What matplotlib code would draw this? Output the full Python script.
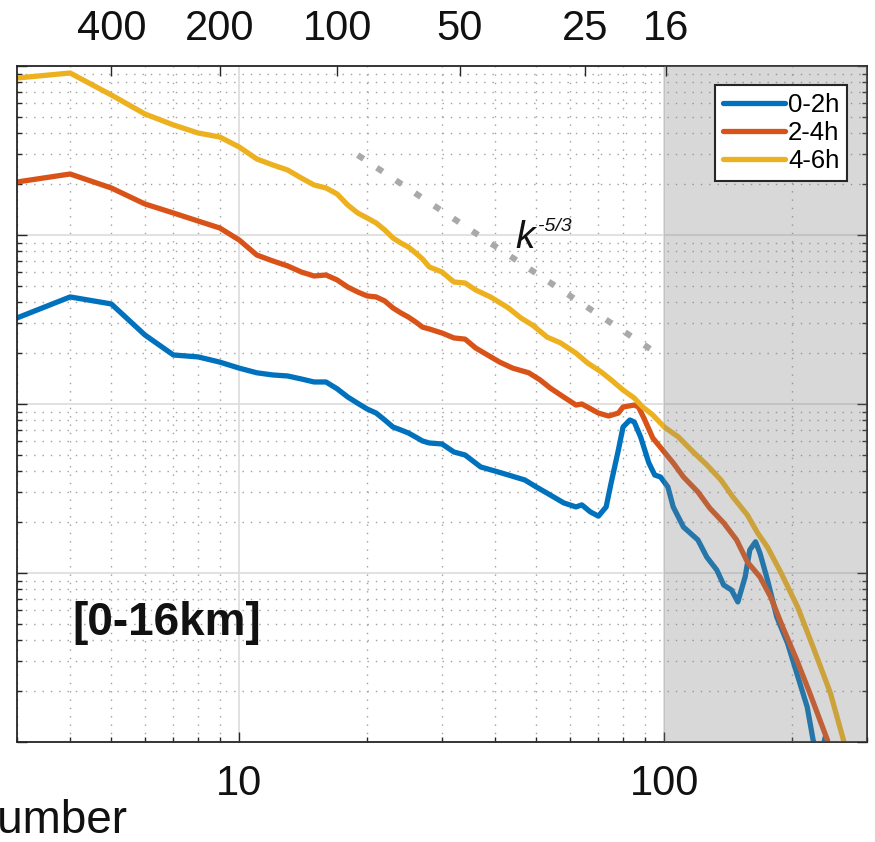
import numpy as np
import matplotlib
matplotlib.use("Agg")
import matplotlib.pyplot as plt
from matplotlib.ticker import LogLocator, NullFormatter, NullLocator

plt.rcParams["font.family"] = ["Liberation Sans", "DejaVu Sans"]

# ---- spectra (wavenumber index k, spectral energy) ----
k_0_2h = [3, 4, 5, 6, 7, 8, 9, 10, 11, 12, 13, 14, 15, 16, 17, 18, 19, 20, 21, 22, 23, 24, 25, 26, 27, 28,
          30, 32, 34, 37, 40, 43, 47, 50, 53, 58, 62, 64, 67, 70, 73, 75, 78, 80, 83, 85, 88, 92, 95, 98,
          102, 105, 111, 120, 126, 133, 138, 144, 149, 155, 159, 164, 168, 175, 184, 195, 205, 217, 224,
          232, 239, 245]
e_0_2h = [323, 430, 391, 256, 195, 190, 177, 163, 153, 148.5, 146.5, 140.6, 135, 135, 123, 110, 101, 93.4,
          88.4, 80.4, 73.1, 70.2, 67.4, 63.8, 60.4, 58.8,
          58.0, 52.0, 49.9, 42.4, 40.1, 38.0, 35.5, 32.3, 29.7, 26.0, 24.6, 25.3, 23.0, 21.7, 24.6, 34.1,
          53.4, 73.1, 80.4, 78.3, 63.8, 44.8, 38.0, 37.0,
          32.3, 24.6, 18.7, 15.7, 12.4, 10.4, 8.49, 7.93, 6.74, 9.47, 13.7, 15.3, 13.1, 9.09, 5.49, 3.85,
          2.56, 1.61, 1.03, 0.75, 1.06, 0.6]

k_2_4h = [3, 4, 5, 6, 7, 8, 9, 10, 11, 12, 13, 14, 15, 16, 17, 18, 19, 20, 21, 22, 23, 24, 25, 26, 27, 28,
          30, 32, 34, 36, 41, 44, 48, 51, 54, 58, 62, 64, 70, 74, 78, 80, 85, 87, 90, 94,
          100, 105, 111, 120, 128, 138, 148, 157, 168, 178, 190, 205, 220, 242, 255]
e_2_4h = [2059, 2296, 1898, 1526, 1350, 1210, 1100, 934, 761, 702, 656, 604, 572, 580, 542, 492, 460, 436,
          430, 407, 370, 346, 327, 306, 285, 278,
          263, 246, 242, 214.5, 177, 163, 153, 139, 124, 110, 98.6, 100, 88.4, 84.9, 88.4, 96.0, 98.6,
          96.0, 80.4, 62.9,
          52.0, 44.8, 37.0, 30.2, 24.2, 19.8, 15.7, 11.6, 9.47, 7.21, 4.79, 3.06, 1.95, 1.03, 0.55]

k_4_6h = [3, 4, 5, 6, 7, 8, 9, 10, 11, 12, 13, 14, 15, 16, 17, 18, 19, 20, 21, 22, 23, 24, 25, 26, 27, 28,
          30, 32, 34, 36, 39, 43, 46, 49, 53, 57, 62, 66, 71, 75, 80, 85, 89, 94,
          100, 108, 117, 126, 136, 145, 157, 166, 175, 188, 206, 224, 246, 264, 280]
e_4_6h = [8490, 9090, 6740, 5200, 4480, 4015, 3800, 3317, 2817, 2596, 2424, 2174, 1977, 1898, 1748, 1505,
          1350, 1261, 1178, 1071, 960, 897, 849, 783, 721, 647,
          604, 527, 520, 473, 430, 370, 323, 293, 249, 230, 200, 175, 155, 139, 121, 108.5, 96.0, 86.1,
          73.1, 63.8, 52.0, 43.6, 35.5, 28.2, 22.0, 17.2, 14.2, 10.1, 6.29, 3.65, 1.95, 1.03, 0.55]

series_labels = ["0-2h", "2-4h", "4-6h"]
series_colors = ["#0072BD", "#D95319", "#EDB120"]

# k^(-5/3) reference slope
ref_k = np.array([19.0, 98.0])
ref_level = 2972.0

# top axis: wavelength (km) for a 1600 km domain, k index starting at 1
domain_km = 1600
wavelength_km = [400, 200, 100, 50, 25, 16]
top_tick_k = [domain_km / w + 1 for w in wavelength_km]

shade_from_k = 100
xlim = (3, 300)
ylim = (1, 1e4)

# ---- figure ----
fig = plt.figure(figsize=(8.75, 8.42), dpi=100)
ax = fig.add_axes([17 / 875, 100 / 842, 850 / 875, 676 / 842])
ax.set_xscale("log")
ax.set_yscale("log")

lines = []
for kk, ee, lab, col in zip([k_0_2h, k_2_4h, k_4_6h], [e_0_2h, e_2_4h, e_4_6h],
                            series_labels, series_colors):
    ln, = ax.plot(kk, ee, color=col, lw=3.8, label=lab, zorder=2,
                  solid_joinstyle="round", solid_capstyle="round")
    lines.append(ln)

ax.plot(ref_k, ref_level * (ref_k / ref_k[0]) ** (-5.0 / 3.0), color="#a9a9a9", lw=4.4,
        linestyle=(0, (1.15, 2.6)), dash_capstyle="butt", zorder=2)

ax.axvspan(shade_from_k, xlim[1], facecolor=(0.5, 0.5, 0.5), alpha=0.3, lw=0, zorder=3)

ax.set_xlim(*xlim)
ax.set_ylim(*ylim)

ax.set_xticks([10, 100], labels=["10", "100"])
ax.xaxis.set_minor_locator(LogLocator(base=10, subs=np.arange(2, 10), numticks=20))
ax.xaxis.set_minor_formatter(NullFormatter())
ax.yaxis.set_major_locator(LogLocator(base=10, numticks=10))
ax.yaxis.set_minor_locator(LogLocator(base=10, subs=np.arange(2, 10), numticks=20))
ax.yaxis.set_minor_formatter(NullFormatter())

ax.tick_params(which="both", direction="in", top=False, right=True, left=True,
               labelleft=False, color="#262626", width=1.0)
ax.tick_params(which="major", length=7)
ax.tick_params(which="minor", length=3.5)
ax.tick_params(axis="x", labelsize=30, pad=16, labelcolor="#111111")

ax.set_axisbelow(True)
ax.grid(True, which="major", color="#dcdcdc", lw=1.2, ls="-")
ax.grid(True, which="minor", color="#a0a0a0", lw=1.0, ls=(0, (1, 5)))

for sp in ax.spines.values():
    sp.set_color("#262626")
    sp.set_linewidth(1.3)

# wavelength axis on top
ax_top = ax.twiny()
ax_top.set_xscale("log")
ax_top.set_xlim(*xlim)
ax_top.set_xticks(top_tick_k, labels=[str(w) for w in wavelength_km])
ax_top.xaxis.set_minor_locator(NullLocator())
ax_top.tick_params(axis="x", direction="in", length=7, width=1.0, color="#262626",
                   labelsize=30, pad=12, labelcolor="#111111")
for sp in ax_top.spines.values():
    sp.set_visible(False)

leg = ax.legend(handles=lines, loc="upper right", bbox_to_anchor=(0.9765, 0.972),
                fontsize=18.5, frameon=True, fancybox=False, edgecolor="#262626", framealpha=1,
                handlelength=2.4, handletextpad=0.12, labelspacing=0.16, borderpad=0.3,
                borderaxespad=0)
leg.get_frame().set_linewidth(1.5)
leg.set_zorder(6)

ax.text(0.5859, 0.7308, "k", transform=ax.transAxes, fontsize=28, style="italic",
        va="baseline", ha="left", color="#111111")
ax.text(0.6125, 0.7560, "-5/3", transform=ax.transAxes, fontsize=14, style="italic",
        va="baseline", ha="left", color="#111111")
ax.text(0.0647, 0.176, "[0-16km]", transform=ax.transAxes, fontsize=33, fontweight="bold",
        va="center", ha="left", color="#111111", zorder=5)

fig.text(128 / 875, 9 / 842, "Wavenumber", fontsize=33, ha="right", va="baseline",
         color="#111111")

fig.savefig("out.png", dpi=100)
